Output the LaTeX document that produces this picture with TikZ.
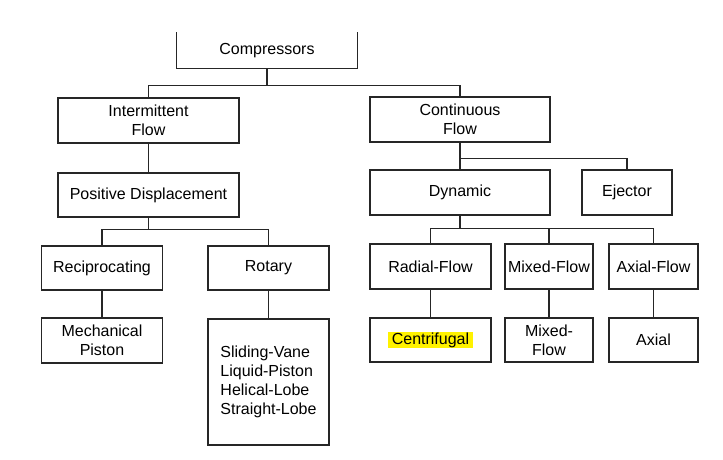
\documentclass[tikz,border=0pt]{standalone}
\usepackage{fontspec}
\setmainfont{Liberation Sans}
\definecolor{marker}{RGB}{255,242,0}
\newcommand{\marked}[1]{{\setlength{\fboxsep}{1pt}\colorbox{marker}{\hspace{3pt}#1\hspace{3pt}}}}

\begin{document}
\begin{tikzpicture}[x=1pt, y=-1pt, line width=1.2pt, draw=black!85,
  every node/.style={font=\fontsize{16}{19}\selectfont, align=center, inner sep=2pt},
  box/.style={draw, rectangle, minimum height=45pt}]

\useasboundingbox (0,0) rectangle (723,459);

\node (comp) [minimum width=180pt, minimum height=35pt] at (267,50.5) {Compressors};
\draw (comp.north west) -- (comp.south west) -- (comp.south east) -- (comp.north east);

\node[box, minimum width=181pt] (inter) at (148.5,120.5) {Intermittent\\Flow};
\node[box, minimum width=180pt] (cont) at (460,119.5) {Continuous\\Flow};
\node[box, minimum width=181pt, minimum height=44pt] (posd) at (148.5,195) {Positive Displacement};
\node[box, minimum width=180pt] (dyn) at (460,192.5) {Dynamic};
\node[box, minimum width=90pt] (ejec) at (627,192.5) {Ejector};

\node[box, minimum width=121pt, minimum height=44pt] (recip) at (102,268) {Reciprocating};
\node[box, minimum width=121pt, minimum height=44pt] (rot) at (268.5,268) {Rotary};
\node[box, minimum width=121pt] (radial) at (430.5,266.5) {Radial-Flow};
\node[box, minimum width=88pt] (mixflow) at (549,266.5) {Mixed-Flow};
\node[box, minimum width=89pt] (axflow) at (653.5,266.5) {Axial-Flow};

\node[box, minimum width=121pt] (mech) at (102,340.5) {Mechanical\\Piston};
\node[box, minimum width=121pt, minimum height=126pt, align=left] (rotlist) at (268.5,382)
  {Sliding-Vane\\Liquid-Piston\\Helical-Lobe\\Straight-Lobe};
\node[box, minimum width=121pt, minimum height=44pt] (centri) at (430.5,340) {\marked{Centrifugal}};
\node[box, minimum width=88pt, minimum height=44pt] (mixed) at (549,340) {Mixed-\\Flow};
\node[box, minimum width=89pt, minimum height=44pt] (axial) at (653.5,340) {Axial};

\draw (comp.south) -- ++(0,17) -| (inter.north);
\draw (comp.south) -- ++(0,17) -| (cont.north);
\draw (inter) -- (posd);
\draw (cont) -- (dyn);
\draw (cont.south) -- ++(0,16) -| (ejec.north);
\draw (posd.south) -- ++(0,12) -| (recip.north);
\draw (posd.south) -- ++(0,12) -| (rot.north);
\draw (dyn.south) -- ++(0,13) -| (radial.north);
\draw (dyn.south) -- ++(0,13) -| (mixflow.north);
\draw (dyn.south) -- ++(0,13) -| (axflow.north);
\draw (recip) -- (mech);
\draw (rot) -- (rotlist);
\draw (radial) -- (centri);
\draw (mixflow) -- (mixed);
\draw (axflow) -- (axial);

\end{tikzpicture}
\end{document}
